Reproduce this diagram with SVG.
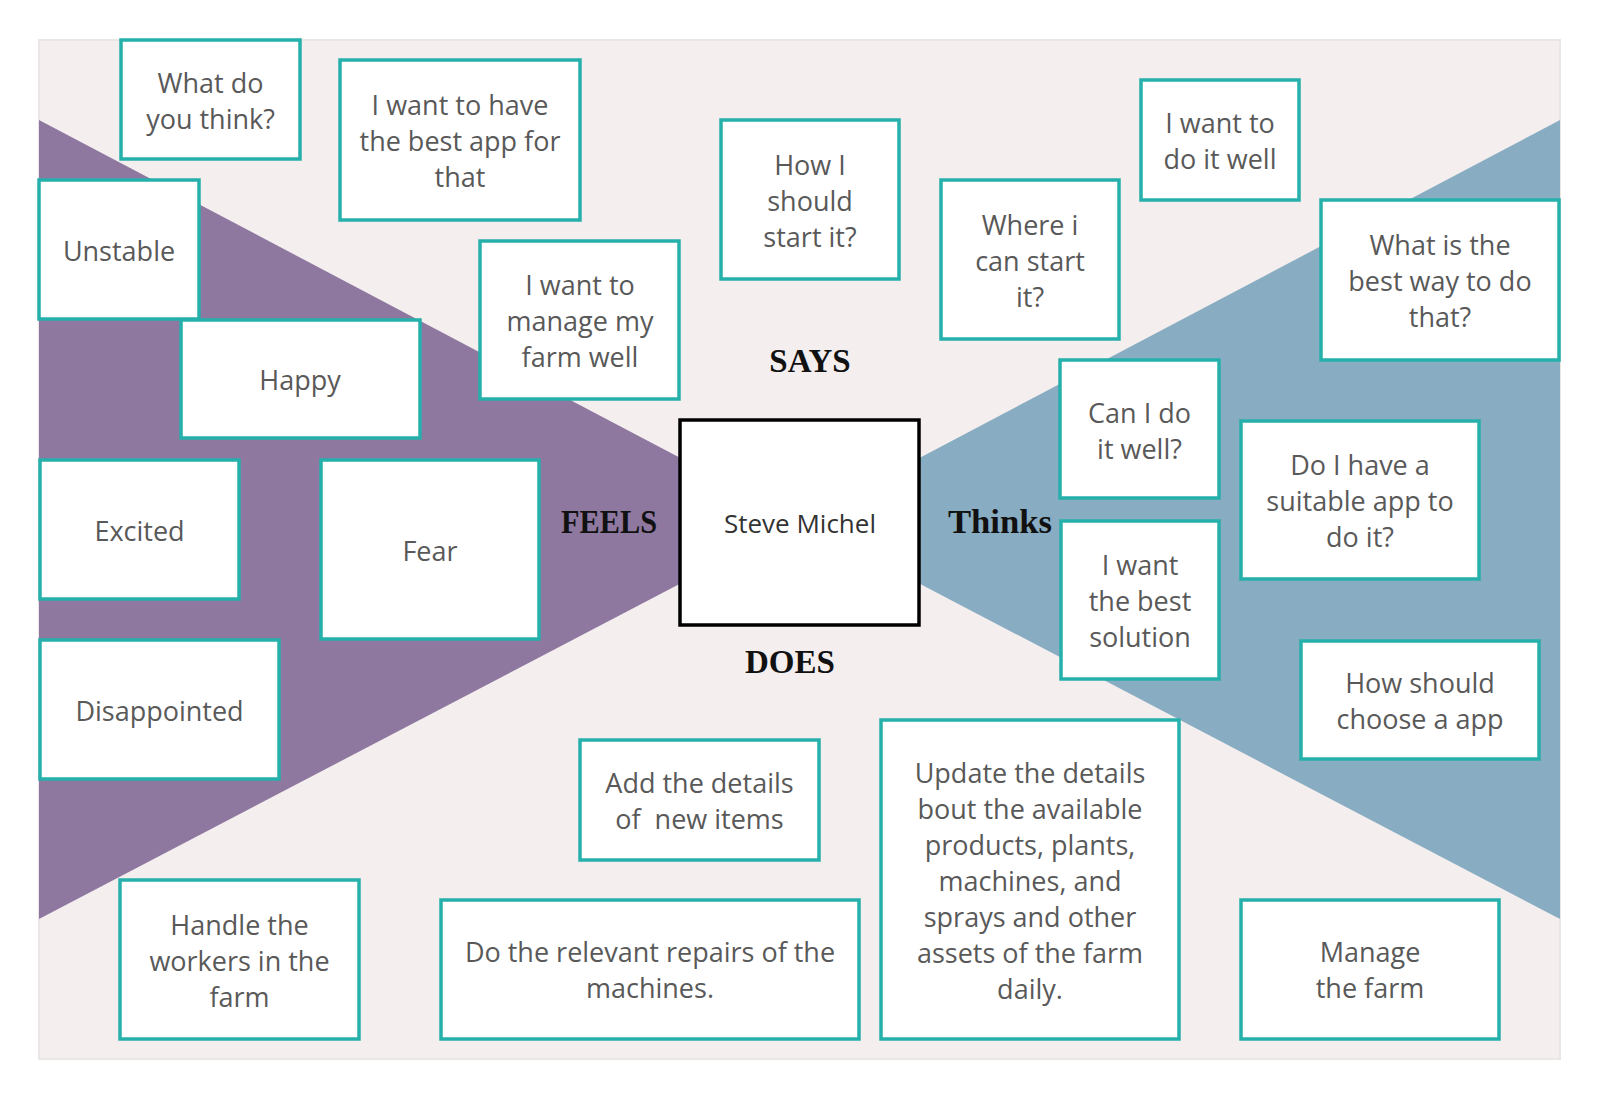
<svg xmlns="http://www.w3.org/2000/svg" width="1601" height="1101" viewBox="0 0 1601 1101">
<style>
.box{fill:#ffffff;stroke:#25b0ab;stroke-width:3.5}
.center{fill:#ffffff;stroke:#000000;stroke-width:3.5}
.t{font-family:"Open Sans","Liberation Sans",sans-serif;font-size:27px;fill:#595959;text-anchor:middle;dominant-baseline:central}
.c{font-family:"Open Sans","Liberation Sans",sans-serif;font-size:26px;fill:#333333;text-anchor:middle;dominant-baseline:central}
.lbl{font-family:"Liberation Serif","DejaVu Serif",serif;font-size:33px;font-weight:bold;fill:#111111;text-anchor:middle;dominant-baseline:central}
</style>
<rect width="1601" height="1101" fill="#ffffff"/>
<g id="background">
<rect x="39" y="40" width="1521" height="1019" fill="#f4eeee" stroke="#ebe6e6" stroke-width="2"/>
<polygon points="39,120 800,521 39,919" fill="#8e78a0"/>
<polygon points="1560,120 800,521 1560,919" fill="#88adc2"/>
</g>
<g id="connectors"></g>
<g id="labels">
<text class="lbl" x="810" y="361">SAYS</text>
<text class="lbl" x="609" y="522" textLength="96" lengthAdjust="spacingAndGlyphs">FEELS</text>
<text class="lbl" x="1000" y="522" textLength="104" lengthAdjust="spacingAndGlyphs">Thinks</text>
<text class="lbl" x="790" y="662" textLength="90" lengthAdjust="spacingAndGlyphs">DOES</text>
</g>
<g id="n1"><rect class="box" x="121" y="40" width="179" height="119"/><text class="t"><tspan x="210.5" y="82">What do</tspan><tspan x="210.5" y="118">you think?</tspan></text></g>
<g id="n2"><rect class="box" x="340" y="60" width="240" height="160"/><text class="t"><tspan x="460" y="104">I want to have</tspan><tspan x="460" y="140">the best app for</tspan><tspan x="460" y="176">that</tspan></text></g>
<g id="n3"><rect class="box" x="39" y="180" width="160" height="139"/><text class="t" x="119" y="250">Unstable</text></g>
<g id="n4"><rect class="box" x="181" y="320" width="239" height="118"/><text class="t" x="300" y="379">Happy</text></g>
<g id="n5"><rect class="box" x="480" y="241" width="199" height="158"/><text class="t"><tspan x="580" y="284">I want to</tspan><tspan x="580" y="320">manage my</tspan><tspan x="580" y="356">farm well</tspan></text></g>
<g id="n6"><rect class="box" x="721" y="120" width="178" height="159"/><text class="t"><tspan x="810" y="164">How I</tspan><tspan x="810" y="200">should</tspan><tspan x="810" y="236">start it?</tspan></text></g>
<g id="n7"><rect class="box" x="941" y="180" width="178" height="159"/><text class="t"><tspan x="1030" y="224">Where i</tspan><tspan x="1030" y="260">can start</tspan><tspan x="1030" y="296">it?</tspan></text></g>
<g id="n8"><rect class="box" x="1141" y="80" width="158" height="120"/><text class="t"><tspan x="1220" y="122">I want to</tspan><tspan x="1220" y="158">do it well</tspan></text></g>
<g id="n9"><rect class="box" x="1321" y="200" width="238" height="160"/><text class="t"><tspan x="1440" y="244">What is the</tspan><tspan x="1440" y="280">best way to do</tspan><tspan x="1440" y="316">that?</tspan></text></g>
<g id="n10"><rect class="box" x="1060" y="360" width="159" height="138"/><text class="t"><tspan x="1139.5" y="412">Can I do</tspan><tspan x="1139.5" y="448">it well?</tspan></text></g>
<g id="n11"><rect class="box" x="1241" y="421" width="238" height="158"/><text class="t"><tspan x="1360" y="464">Do I have a</tspan><tspan x="1360" y="500">suitable app to</tspan><tspan x="1360" y="536">do it?</tspan></text></g>
<g id="n12"><rect class="box" x="1061" y="521" width="158" height="158"/><text class="t"><tspan x="1140" y="564">I want</tspan><tspan x="1140" y="600">the best</tspan><tspan x="1140" y="636">solution</tspan></text></g>
<g id="n13"><rect class="box" x="1301" y="641" width="238" height="118"/><text class="t"><tspan x="1420" y="682">How should</tspan><tspan x="1420" y="718">choose a app</tspan></text></g>
<g id="n14"><rect class="box" x="40" y="460" width="199" height="139"/><text class="t" x="139.5" y="530">Excited</text></g>
<g id="n15"><rect class="box" x="321" y="460" width="218" height="179"/><text class="t" x="430" y="550">Fear</text></g>
<g id="n16"><rect class="box" x="40" y="640" width="239" height="139"/><text class="t" x="159.5" y="710">Disappointed</text></g>
<g id="n17"><rect class="box" x="580" y="740" width="239" height="120"/><text class="t" style="white-space:pre"><tspan x="699.5" y="782">Add the details</tspan><tspan x="699.5" y="818">of  new items</tspan></text></g>
<g id="n18"><rect class="box" x="881" y="720" width="298" height="319"/><text class="t"><tspan x="1030" y="772">Update the details</tspan><tspan x="1030" y="808">bout the available</tspan><tspan x="1030" y="844">products, plants,</tspan><tspan x="1030" y="880">machines, and</tspan><tspan x="1030" y="916">sprays and other</tspan><tspan x="1030" y="952">assets of the farm</tspan><tspan x="1030" y="988">daily.</tspan></text></g>
<g id="n19"><rect class="box" x="1241" y="900" width="258" height="139"/><text class="t"><tspan x="1370" y="951">Manage</tspan><tspan x="1370" y="987">the farm</tspan></text></g>
<g id="n20"><rect class="box" x="120" y="880" width="239" height="159"/><text class="t"><tspan x="239.5" y="924">Handle the</tspan><tspan x="239.5" y="960">workers in the</tspan><tspan x="239.5" y="996">farm</tspan></text></g>
<g id="n21"><rect class="box" x="441" y="900" width="418" height="139"/><text class="t"><tspan x="650" y="951">Do the relevant repairs of the</tspan><tspan x="650" y="987">machines.</tspan></text></g>
<g id="center"><rect class="center" x="680" y="420" width="239" height="205"/><text class="c" x="800" y="523">Steve Michel</text></g>
</svg>
